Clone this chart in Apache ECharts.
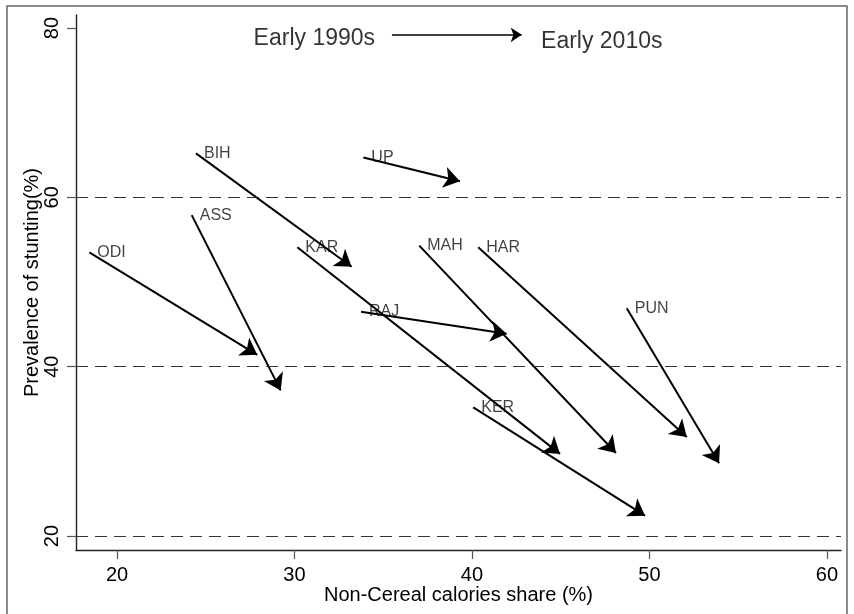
<!DOCTYPE html>
<html>
<head>
<meta charset="utf-8">
<script src="https://cdn.jsdelivr.net/npm/echarts@6/dist/echarts.min.js"></script>
<style>
  html, body { margin: 0; padding: 0; background: #fff; }
  #chart { width: 854px; height: 614px; }
</style>
</head>
<body>
<div id="chart"></div>
<script>
// State codes and their (non-cereal share, stunting) in early 1990s and early 2010s
const states   = ['BIH', 'UP', 'ASS', 'ODI', 'KAR', 'RAJ', 'MAH', 'HAR', 'PUN', 'KER'];
const ncs1990  = [24.45, 33.88, 24.21, 18.44, 30.16, 33.75, 37.03, 40.35, 48.72, 40.07];
const stunt1990= [65.2,  64.7,  57.9,  53.5,  54.1,  46.5,  54.3,  54.1,  46.9,  35.2];
const ncs2010  = [33.22, 39.32, 29.22, 27.90, 44.96, 41.95, 48.11, 52.10, 53.92, 49.75];
const stunt2010= [51.8,  61.9,  37.2,  41.4,  29.7,  43.9,  29.8,  31.7,  28.6,  22.4];

// Axis ticks and reference lines
const xTicks = [20, 30, 40, 50, 60];
const yTicks = [20, 40, 60, 80];
const refLines = [20, 40, 60];

// Period legend placed inside the plot
const legendFrom = 'Early 1990s';
const legendTo = 'Early 2010s';
const legendArrow = [[35.49, 79.2], [42.80, 79.2]];
const legendFromPos = [34.54, 78.8];
const legendToPos = [43.89, 78.35];

const FONT = 'Liberation Sans, Arial, Helvetica, sans-serif';

const arrows = states.map((s, i) => ({
  coords: [[ncs1990[i], stunt1990[i]], [ncs2010[i], stunt2010[i]]]
}));
const starts = states.map((s, i) => [ncs1990[i], stunt1990[i], s]);

const chart = echarts.init(document.getElementById('chart'), null, { renderer: 'canvas' });
chart.setOption({
  backgroundColor: '#fff',
  animation: false,
  grid: { left: 76, right: 13, top: 15, bottom: 64, containLabel: false },
  graphic: [{
    type: 'rect',
    shape: { x: 7, y: 6, width: 840, height: 620 },
    style: { fill: 'none', stroke: '#666', lineWidth: 1.5 },
    silent: true
  }],
  xAxis: {
    type: 'value',
    min: 17.69, max: 60.79,
    name: 'Non-Cereal calories share (%)',
    nameLocation: 'middle',
    nameGap: 35,
    nameMoveOverlap: false,
    nameTextStyle: { fontFamily: FONT, fontSize: 20, color: '#000' },
    axisLine: { show: true, onZero: false, lineStyle: { color: '#222', width: 1.4 } },
    axisTick: { show: true, customValues: xTicks, length: 9, lineStyle: { color: '#555', width: 1.2 } },
    axisLabel: { customValues: xTicks, margin: 15, fontFamily: FONT, fontSize: 20, color: '#000' },
    splitLine: { show: false }
  },
  yAxis: {
    type: 'value',
    min: 18.35, max: 81.54,
    name: 'Prevalence of stunting(%)',
    nameLocation: 'middle',
    nameGap: 34,
    nameMoveOverlap: false,
    nameRotate: 90,
    nameTextStyle: { fontFamily: FONT, fontSize: 20, color: '#000' },
    axisLine: { show: true, onZero: false, lineStyle: { color: '#222', width: 1.4 } },
    axisTick: { show: true, customValues: yTicks, length: 9, lineStyle: { color: '#555', width: 1.2 } },
    axisLabel: { customValues: yTicks, rotate: 90, margin: 14, fontFamily: FONT, fontSize: 20, color: '#000' },
    splitLine: { show: false }
  },
  series: [
    {
      // start-to-end movement of each state
      type: 'lines',
      coordinateSystem: 'cartesian2d',
      symbol: ['none', 'arrow'],
      symbolSize: 16,
      lineStyle: { color: '#000', width: 2, opacity: 1 },
      data: arrows,
      z: 3
    },
    {
      // state labels at the early-1990s position, with dashed reference lines
      type: 'scatter',
      symbolSize: 0,
      data: starts,
      label: {
        show: true,
        position: 'right',
        distance: 8,
        formatter: p => p.data[2],
        fontFamily: FONT,
        fontSize: 16,
        color: '#111'
      },
      markLine: {
        silent: true,
        symbol: 'none',
        label: { show: false },
        lineStyle: { color: '#333', width: 1, type: [12, 7] },
        data: refLines.map(v => ({ yAxis: v }))
      },
      z: 2
    },
    {
      // period legend arrow
      type: 'lines',
      coordinateSystem: 'cartesian2d',
      symbol: ['none', 'arrow'],
      symbolSize: 11,
      lineStyle: { color: '#000', width: 1.5, opacity: 1 },
      data: [{ coords: legendArrow }]
    },
    {
      type: 'scatter',
      symbolSize: 0,
      data: [
        { value: legendFromPos, label: { position: 'left', distance: 0, formatter: legendFrom } },
        { value: legendToPos, label: { position: 'right', distance: 0, formatter: legendTo } }
      ],
      label: { show: true, fontFamily: FONT, fontSize: 23, color: '#000' }
    }
  ]
});
</script>
</body>
</html>
